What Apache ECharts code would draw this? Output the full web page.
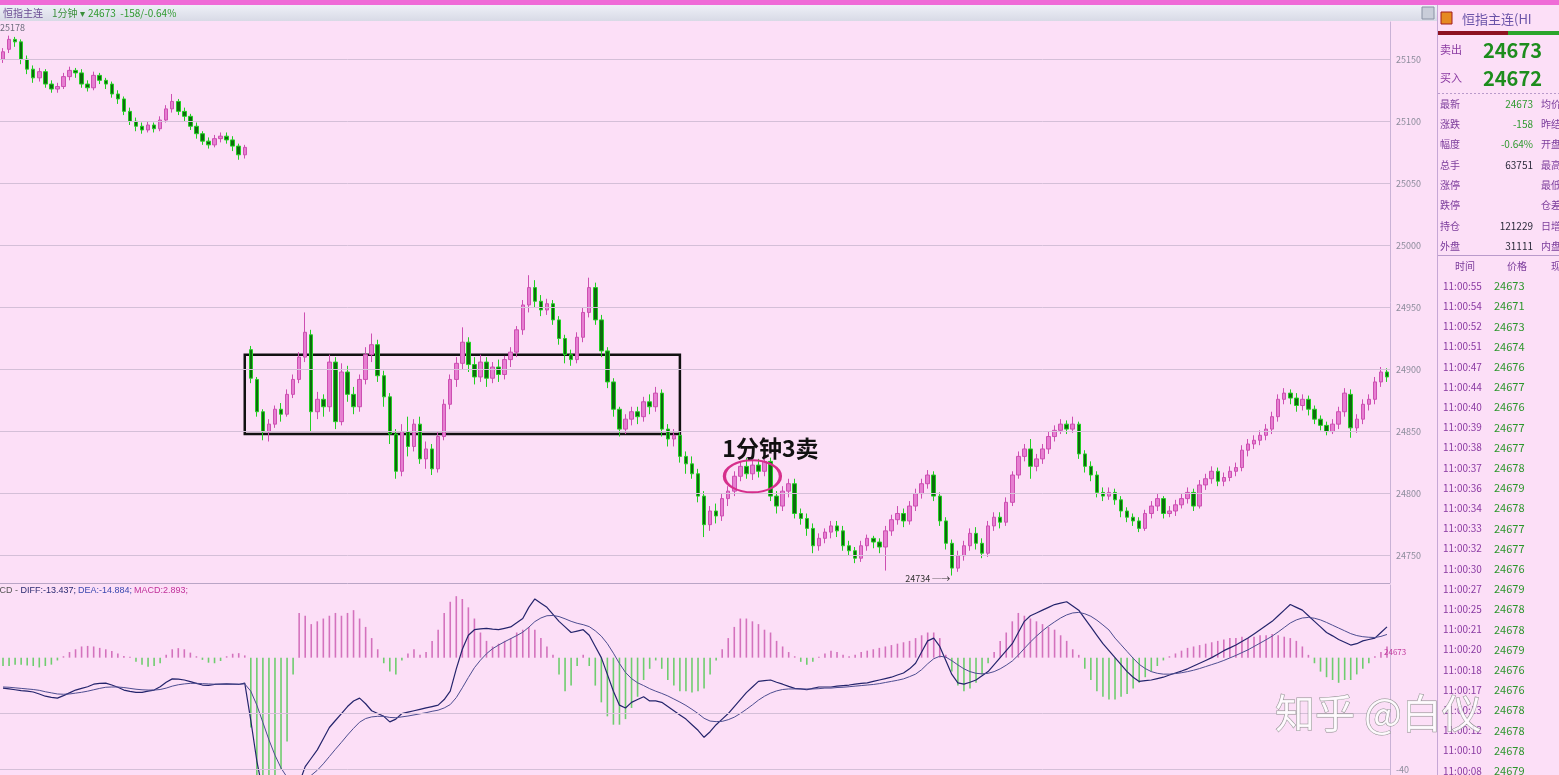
<!DOCTYPE html>
<html><head><meta charset="utf-8">
<script src="https://cdn.jsdelivr.net/npm/echarts@6/dist/echarts.min.js"></script>
<style>html,body{margin:0;padding:0;background:#fcdff7;overflow:hidden;}#c{width:1559px;height:775px;}</style>
</head><body><div id="c"></div>
<script>
// ---------- DATA ----------
const priceTicks = [24750, 24800, 24850, 24900, 24950, 25000, 25050, 25100, 25150];
const macdTicks = [-40];
const macdGrid = [-20, -40];
// [open, close, low, high]
const ohlc = [
[25150,25156,25147,25159],[25158,25166,25155,25169],[25166,25164,25160,25168],[25164,25150,25146,25166],
[25150,25142,25138,25153],[25142,25135,25131,25145],[25135,25140,25132,25143],[25140,25130,25127,25142],
[25130,25126,25123,25133],[25126,25128,25123,25131],[25128,25136,25126,25139],[25136,25141,25133,25144],
[25141,25139,25135,25143],[25139,25130,25127,25142],[25130,25127,25124,25133],[25127,25137,25125,25140],
[25137,25133,25130,25139],[25133,25130,25126,25135],[25130,25122,25119,25132],[25122,25118,25114,25125],
[25118,25108,25105,25120],[25108,25100,25097,25111],[25100,25096,25092,25103],[25096,25093,25090,25099],
[25093,25097,25091,25100],[25097,25094,25091,25099],[25094,25101,25092,25104],[25101,25110,25099,25113],
[25110,25116,25107,25122],[25116,25108,25105,25118],[25108,25104,25100,25111],[25104,25096,25093,25106],
[25096,25090,25086,25099],[25090,25084,25081,25092],[25084,25081,25078,25087],[25081,25086,25079,25089],
[25086,25088,25083,25091],[25088,25085,25082,25091],[25085,25080,25076,25088],[25080,25073,25069,25082],
[25073,25079,25070,25081],
[24916,24893,24889,24919],[24892,24866,24862,24894],[24866,24850,24843,24868],[24850,24856,24842,24860],
[24856,24868,24853,24871],[24868,24864,24858,24873],[24864,24880,24862,24884],[24880,24892,24877,24896],
[24892,24910,24889,24914],[24910,24930,24906,24946],[24928,24866,24850,24932],[24866,24876,24860,24882],
[24876,24870,24862,24880],[24870,24906,24866,24912],[24906,24858,24852,24910],[24858,24898,24855,24905],
[24898,24880,24874,24903],[24880,24870,24864,24886],[24870,24892,24866,24896],[24892,24912,24888,24918],
[24912,24920,24906,24929],[24920,24895,24890,24924],[24895,24878,24870,24899],[24878,24848,24840,24881],
[24848,24818,24812,24852],[24818,24850,24814,24856],[24850,24838,24830,24862],[24838,24856,24834,24860],
[24856,24828,24824,24862],[24828,24836,24820,24842],[24836,24820,24815,24840],[24820,24846,24817,24850],
[24846,24872,24843,24876],[24872,24892,24868,24896],[24892,24905,24886,24910],[24905,24922,24900,24934],
[24922,24904,24898,24926],[24904,24894,24888,24910],[24894,24906,24890,24912],[24906,24893,24886,24910],
[24893,24902,24889,24906],[24902,24896,24890,24908],[24896,24908,24892,24911],[24908,24914,24902,24918],
[24914,24932,24910,24935],[24932,24952,24928,24956],[24952,24966,24946,24976],[24966,24955,24950,24972],
[24955,24948,24943,24960],[24948,24953,24944,24957],[24953,24940,24936,24956],[24940,24925,24920,24943],
[24925,24912,24905,24928],[24912,24908,24903,24916],[24908,24926,24905,24930],[24926,24946,24922,24950],
[24946,24966,24942,24974],[24966,24940,24936,24970],[24940,24915,24910,24944],[24915,24890,24885,24918],
[24890,24868,24862,24893],[24868,24852,24846,24870],[24852,24860,24848,24864],[24860,24866,24855,24870],
[24866,24862,24856,24870],[24862,24874,24858,24878],[24874,24870,24864,24880],[24870,24881,24866,24886],
[24881,24852,24846,24884],[24852,24844,24838,24856],[24844,24847,24838,24852],[24847,24830,24825,24850],
[24830,24824,24816,24834],[24824,24816,24812,24830],[24816,24798,24793,24820],[24798,24775,24765,24802],
[24775,24786,24770,24790],[24786,24782,24776,24792],[24782,24796,24778,24800],[24796,24802,24790,24806],
[24802,24814,24798,24818],[24814,24822,24810,24826],[24822,24816,24812,24829],[24816,24823,24811,24827],
[24823,24818,24813,24828],[24818,24826,24814,24829],[24826,24798,24794,24829],[24798,24790,24784,24802],
[24790,24802,24786,24806],[24802,24808,24797,24812],[24808,24784,24780,24812],[24784,24780,24775,24788],
[24780,24772,24766,24784],[24772,24758,24752,24776],[24758,24764,24754,24768],[24764,24769,24760,24772],
[24769,24774,24764,24778],[24774,24770,24765,24778],[24770,24758,24754,24774],[24758,24754,24750,24762],
[24754,24748,24744,24757],[24748,24758,24745,24762],[24758,24764,24754,24767],[24764,24761,24756,24766],
[24761,24757,24752,24764],[24757,24770,24738,24774],[24770,24779,24766,24783],[24779,24784,24775,24790],
[24784,24778,24773,24788],[24778,24790,24775,24794],[24790,24800,24786,24804],[24800,24808,24796,24812],
[24808,24815,24804,24819],[24815,24798,24794,24818],[24798,24778,24774,24801],[24778,24760,24755,24781],
[24760,24740,24734,24763],[24740,24750,24737,24754],[24750,24758,24746,24762],[24758,24768,24754,24772],
[24768,24760,24755,24773],[24760,24752,24748,24764],[24752,24774,24749,24778],[24774,24781,24770,24785],
[24781,24777,24772,24785],[24777,24793,24774,24797],[24793,24815,24790,24818],[24815,24830,24812,24834],
[24830,24836,24826,24840],[24836,24822,24812,24844],[24822,24828,24818,24832],[24828,24836,24824,24840],
[24836,24846,24832,24850],[24846,24851,24842,24855],[24851,24856,24848,24860],[24856,24852,24848,24859],
[24852,24856,24849,24862],[24856,24832,24828,24858],[24832,24822,24817,24835],[24822,24815,24810,24826],
[24815,24801,24797,24818],[24801,24798,24794,24805],[24798,24801,24795,24805],[24801,24795,24791,24804],
[24795,24786,24781,24798],[24786,24781,24777,24789],[24781,24778,24774,24784],[24778,24772,24769,24781],
[24772,24784,24770,24787],[24784,24790,24780,24794],[24790,24796,24786,24800],[24796,24784,24780,24798],
[24784,24786,24781,24790],[24786,24791,24782,24795],[24791,24796,24788,24800],[24796,24801,24792,24805],
[24801,24790,24786,24804],[24790,24807,24788,24811],[24807,24812,24803,24816],[24812,24818,24808,24822],
[24818,24810,24806,24821],[24810,24813,24806,24817],[24813,24818,24810,24822],[24818,24821,24814,24825],
[24821,24835,24818,24839],[24835,24840,24830,24844],[24840,24843,24836,24847],[24843,24847,24839,24851],
[24847,24852,24843,24856],[24852,24862,24848,24866],[24862,24876,24858,24880],[24876,24881,24872,24885],
[24881,24877,24872,24884],[24877,24871,24866,24881],[24871,24876,24867,24880],[24876,24868,24863,24879],
[24868,24860,24856,24871],[24860,24855,24851,24863],[24855,24850,24847,24858],[24850,24856,24848,24860],
[24856,24866,24852,24870],[24866,24881,24862,24885],[24880,24853,24845,24884],[24853,24860,24849,24864],
[24860,24872,24856,24876],[24872,24876,24867,24880],[24876,24890,24872,24894],[24890,24898,24886,24902],
[24898,24894,24890,24901]
];
const diff = [
-10.9,-11.2,-11.5,-11.8,-12.0,-12.3,-13.0,-13.8,-14.2,-14.5,-13.6,-12.6,-11.6,-11.0,-10.4,-9.5,-9.2,-9.1,-9.8,-10.6,
-11.6,-12.1,-12.4,-12.4,-12.0,-11.6,-10.4,-8.8,-7.6,-7.7,-8.0,-8.6,-9.2,-9.8,-9.9,-9.6,-9.5,-9.4,-9.5,-9.6,
-9.1,-22.5,-37,-48,-54,-57,-58,-56,-52,-45,-39,-36,-33,-29,-25,-22.5,-20,-17.5,-15.5,-14.5,
-16.5,-19,-20,-21,-23,-22,-20,-19.5,-19,-18.5,-18,-17.5,-17,-15,-12,-4,3,8,10,10.3,
10.5,10.2,10,10.5,11,12.5,14,18,21,19.5,18,15.5,13,11,9,9.5,10,8,4,0,
-6,-12,-17,-18,-16,-15,-14,-15.5,-15.5,-16,-17.5,-19,-20.5,-22,-24,-26,-28.5,-26.5,-24,-22,
-20,-17.5,-15,-12.5,-10.5,-8.5,-8.2,-8,-8.8,-9.5,-10.3,-11,-11.2,-11.5,-11,-10.5,-10.5,-10.5,-10.2,-10,
-9.8,-9.5,-9.2,-9,-8.5,-8,-7.5,-7,-6.2,-5.5,-4,-2,2,6,7,4,-1,-6,-9,-9.5,
-8.8,-8,-6.5,-5,-2.5,0,2.5,5,9,13,15,16,17,18,19,19.5,20,18.5,17,14,
11,8,5,2.5,0,-2.5,-5,-7,-8.5,-8.2,-8,-7.5,-7,-6.2,-5.5,-4.8,-4,-3,-2,-1,
0,1.2,2.5,3.5,4.5,5.8,7,8.5,10,11.5,13,15,17,19,18,17,15,13,11,9,
7.8,6.5,5.5,4.5,5,6,6.5,7,9,11
];
const dea = [
-10.5,-10.6,-10.8,-11.0,-11.2,-11.4,-11.7,-12.2,-12.6,-13.0,-13.1,-13.0,-12.7,-12.4,-12.0,-11.5,-11.0,-10.6,-10.5,-10.5,
-10.7,-11.0,-11.3,-11.5,-11.6,-11.6,-11.4,-10.9,-10.2,-9.7,-9.4,-9.2,-9.2,-9.3,-9.4,-9.5,-9.5,-9.5,-9.5,-9.5,
-9.4,-12.0,-17.0,-23.2,-29.4,-34.9,-39.5,-42.8,-44.7,-44.7,-43.6,-42.1,-40.3,-38.0,-35.4,-32.8,-30.3,-27.7,-25.3,-23.1,
-21.8,-21.2,-21.0,-21.0,-21.4,-21.5,-21.2,-20.9,-20.5,-20.1,-19.7,-19.2,-18.8,-18.0,-16.8,-14.3,-10.8,-7.1,-3.6,-0.9,
1.4,3.2,4.5,5.7,6.8,7.9,9.1,10.9,12.9,14.2,15.0,15.1,14.7,13.9,13.0,12.3,11.8,11.1,9.6,7.7,
5.0,1.6,-2.1,-5.3,-7.5,-9.0,-10.0,-11.1,-12.0,-12.8,-13.7,-14.8,-15.9,-17.1,-18.5,-20.0,-21.7,-22.7,-22.9,-22.8,
-22.2,-21.3,-20.0,-18.5,-16.9,-15.2,-13.8,-12.7,-11.9,-11.4,-11.2,-11.2,-11.2,-11.2,-11.2,-11.1,-10.9,-10.9,-10.7,-10.6,
-10.4,-10.2,-10.0,-9.8,-9.6,-9.3,-8.9,-8.5,-8.1,-7.6,-6.8,-5.9,-4.3,-2.2,-0.4,0.5,0.2,-1.1,-2.6,-4.0,
-5.0,-5.6,-5.8,-5.6,-5.0,-4.0,-2.7,-1.2,0.9,3.3,5.6,7.7,9.6,11.3,12.8,14.2,15.3,16.0,16.2,15.7,
14.8,13.4,11.7,9.9,7.0,4.6,2.2,-0.2,-2.4,-3.9,-5.0,-5.6,-5.9,-5.9,-5.7,-5.4,-5.0,-4.5,-3.9,-3.2,
-2.5,-1.8,-1.0,-0.1,0.8,1.8,2.8,4.0,5.2,6.4,7.7,9.2,10.8,12.4,13.5,14.2,14.4,14.1,13.5,12.6,
11.6,10.6,9.6,8.6,7.9,7.5,7.3,7.2,7.6,8.3
];
const macd = [
-3,-3,-2.5,-2.5,-2.8,-3,-3.5,-3,-2.5,-1,0.5,2,3,4,4.2,4,3.5,3,2.4,1.5,
0.6,0.3,-1.5,-2.5,-3.3,-3,-2,1,3,3.4,3,1.8,0.5,-0.8,-1.8,-2,-1.2,0.5,1.4,1.6,
0.8,-25,-44,-50,-50,-48,-40,-30,-6,16,15,12,13,14,15,16,15,16,17,14,
11,7,3,-2,-5,-6,-1,1.5,3,1,2,6,10,16,20,22,21,18,14,9,
6,4,5,6,7,9,10,11,10,7,4,1,-6,-12,-10,-3,1,-3,-10,-16,
-21,-24,-24,-22,-18,-14,-8,-4,-1,-4,-8,-10,-12,-12,-12.5,-12,-11,-6,-1,3,
7,11,14,14,13,12,10,9,6,4,2,0.5,-1.5,-2.5,-1.5,0.3,1.5,2.5,2,1,
0.5,1,2,2.5,3,3.5,4,4.5,5,5.5,6,7,8,9,9,7,1,-5,-10,-12,
-11,-9,-6,-2,2,6,9,13,16,15,14,13,12,11,10,8,6,3,1,-4,
-8,-12,-14,-15,-15,-14,-13,-11,-9,-7,-5,-3,-1,0.5,1.5,2.5,3.5,4,4.5,5,
5.5,6,6.5,7,7,7.5,7,7.5,8,8,8.5,8,7.5,7,6,4,1,-2,-5,-7,
-8,-9,-8,-8,-6,-4,-2,0.5,2,4
];
const categories = ohlc.map((_, i) => String(i + 1));
const quoteLabels = ['最新', '涨跌', '幅度', '总手', '涨停', '跌停', '持仓', '外盘'];
const quoteValues = ['24673', '-158', '-0.64%', '63751', '', '', '121229', '31111'];
const quoteLabels2 = ['均价', '昨结', '开盘', '最高', '最低', '仓差', '日增', '内盘'];
const tickTimes = ['11:00:55','11:00:54','11:00:52','11:00:51','11:00:47','11:00:44','11:00:40','11:00:39','11:00:38',
  '11:00:37','11:00:36','11:00:34','11:00:33','11:00:32','11:00:30','11:00:27','11:00:25','11:00:21','11:00:20',
  '11:00:18','11:00:17','11:00:13','11:00:12','11:00:10','11:00:08'];
const tickPrices = ['24673','24671','24673','24674','24676','24677','24676','24677','24677','24678','24679','24678',
  '24677','24677','24676','24679','24678','24678','24679','24676','24676','24678','24678','24678','24679'];

// ---------- CHART ----------
const FONT = "'Noto Sans CJK SC','Noto Sans',sans-serif";
const chart = echarts.init(document.getElementById('c'), null, {width: 1559, height: 775});
const G = [];
function txt(x, y, text, st, z) {
  G.push({type: 'text', x: x, y: y, z: z || 10, silent: true,
    style: Object.assign({text: text, fontFamily: FONT, fontSize: 10, fill: '#333', verticalAlign: 'middle'}, st)});
}
function rect(x, y, w, h, st, z) { G.push({type: 'rect', z: z || 5, silent: true, shape: {x: x, y: y, width: w, height: h}, style: st}); }
function line(x1, y1, x2, y2, st, z) { G.push({type: 'line', z: z || 5, silent: true, shape: {x1: x1, y1: y1, x2: x2, y2: y2}, style: st}); }

// top strip + toolbar
rect(0, 0, 1559, 5, {fill: '#ef6bd7'});
rect(0, 5, 1437, 16, {fill: new echarts.graphic.LinearGradient(0, 0, 0, 1, [{offset: 0, color: '#eef0f7'}, {offset: 1, color: '#d8dae6'}])});
txt(3, 13, '恒指主连', {fill: '#6a4c92', fontSize: 10});
txt(52, 13, '1分钟 ▾', {fill: '#3b8f3b', fontSize: 10});
txt(88, 13, '24673  -158/-0.64%', {fill: '#2f9a2f', fontSize: 10});
rect(1422, 7, 12, 12, {fill: '#c9cdd9', stroke: '#8a92a4', lineWidth: 1});
txt(0, 28, '25178', {fill: '#6c6c7c', fontSize: 9});
// panel separators
line(0, 583.5, 1390, 583.5, {stroke: '#b9a5c6', lineWidth: 1});
line(1437.5, 5, 1437.5, 775, {stroke: '#c6a7d6', lineWidth: 1});
// MACD header
G.push({type: 'text', x: -14, y: 591, z: 10, silent: true, style: {
  text: '{a|MACD - }{b|DIFF:-13.437;} {c|DEA:-14.884;} {d|MACD:2.893;}', fontFamily: FONT, fontSize: 9, verticalAlign: 'middle',
  rich: {a: {fill: '#555', fontSize: 9}, b: {fill: '#2a2a70', fontSize: 9}, c: {fill: '#3a48b0', fontSize: 9}, d: {fill: '#c0309a', fontSize: 9}}}});
txt(1384, 652, '24673', {fill: '#c0389c', fontSize: 8});

// right quote panel
rect(1441, 12, 11, 12, {fill: '#e58a22', stroke: '#a21d1d', lineWidth: 1});
txt(1462, 19, '恒指主连(HI', {fill: '#6a53a8', fontSize: 13});
rect(1438, 31, 70, 4, {fill: '#8d1221'});
rect(1508, 31, 51, 4, {fill: '#2ba52b'});
txt(1440, 50, '卖出', {fill: '#8a3aa2', fontSize: 11});
txt(1483, 50, '24673', {fill: '#1d8d1d', fontSize: 20, fontWeight: 'bold'});
txt(1440, 78, '买入', {fill: '#8a3aa2', fontSize: 11});
txt(1483, 78, '24672', {fill: '#1d8d1d', fontSize: 20, fontWeight: 'bold'});
line(1438, 93.5, 1559, 93.5, {stroke: '#b99acb', lineWidth: 1, lineDash: [2, 2]});
quoteLabels.forEach(function (lab, k) {
  const y = 104 + k * 20.3;
  txt(1440, y, lab, {fill: '#7b3c9b', fontSize: 10});
  txt(1533, y, quoteValues[k], {fill: k < 3 ? '#2f9a2f' : '#2a2a3a', fontSize: 10, align: 'right'});
  txt(1541, y, quoteLabels2[k], {fill: '#7b3c9b', fontSize: 10});
});
line(1438, 255.5, 1559, 255.5, {stroke: '#b99acb', lineWidth: 1});
txt(1455, 266, '时间', {fill: '#7b3c9b', fontSize: 10});
txt(1507, 266, '价格', {fill: '#7b3c9b', fontSize: 10});
txt(1551, 266, '现', {fill: '#7b3c9b', fontSize: 10});
tickTimes.forEach(function (t, k) {
  const y = 286 + k * 20.2;
  txt(1443, y, t, {fill: '#8a3aa2', fontSize: 10});
  txt(1494, y, tickPrices[k], {fill: '#2c962c', fontSize: 11});
});
// watermark
txt(1275, 713, '知乎 @白仪', {fill: 'rgba(255,255,255,0.85)', stroke: '#8e8e8e', lineWidth: 1, fontSize: 40}, 100);

const hiddenX = {show: false};
const plainNum = function (v) { return String(v); };
const option = {
  animation: false,
  backgroundColor: '#fcdff7',
  textStyle: {fontFamily: FONT},
  grid: [
    {left: 0, right: 169, top: 22, height: 561},
    {left: 0, right: 169, top: 585, height: 190}
  ],
  xAxis: [
    {type: 'category', gridIndex: 0, data: categories, boundaryGap: true, axisLine: hiddenX, axisTick: hiddenX, axisLabel: hiddenX, splitLine: hiddenX},
    {type: 'category', gridIndex: 1, data: categories, boundaryGap: true, axisLine: hiddenX, axisTick: hiddenX, axisLabel: hiddenX, splitLine: hiddenX}
  ],
  yAxis: [
    {type: 'value', gridIndex: 0, position: 'right', min: 24728, max: 25180,
     splitLine: {show: false}, axisTick: {show: false},
     axisLine: {show: true, lineStyle: {color: '#c9b2d6'}},
     axisLabel: {customValues: priceTicks, formatter: plainNum, color: '#8c8c9c', fontSize: 9, margin: 6}},
    {type: 'value', gridIndex: 1, position: 'right', min: -42, max: 26,
     splitLine: {show: false}, axisTick: {show: false},
     axisLine: {show: true, lineStyle: {color: '#c9b2d6'}},
     axisLabel: {customValues: macdTicks, formatter: plainNum, color: '#8c8c9c', fontSize: 9, margin: 6}}
  ],
  series: [
    {
      type: 'candlestick', xAxisIndex: 0, yAxisIndex: 0, data: ohlc, barWidth: 4,
      itemStyle: {color: '#e67ed1', color0: '#0e6a0e', borderColor: '#cd4fb2', borderColor0: '#22d022', borderWidth: 1},
      markLine: {silent: true, symbol: ['none', 'none'], label: {show: false},
        lineStyle: {color: '#d4bfd8', width: 1, type: 'solid'}, data: priceTicks.map(function (v) { return {yAxis: v}; })},
      markArea: {silent: true, itemStyle: {color: 'rgba(0,0,0,0)', borderColor: '#111', borderWidth: 2.5},
        data: [[{xAxis: categories[40], yAxis: 24912}, {xAxis: categories[112], yAxis: 24848}]]},
      markPoint: {silent: true, data: [
        {coord: [categories[124], 24814], symbol: 'circle', symbolSize: [56, 32],
         itemStyle: {color: 'rgba(0,0,0,0)', borderColor: '#d62f8c', borderWidth: 2.5}, label: {show: false}},
        {coord: [categories[124], 24814], symbol: 'circle', symbolSize: 1, itemStyle: {color: 'rgba(0,0,0,0)'},
         label: {show: true, formatter: '1分钟3卖', position: 'inside', offset: [18, -28], fontSize: 23, fontWeight: 'bold', color: '#111'}},
        {coord: [categories[157], 24734], symbol: 'circle', symbolSize: 1, itemStyle: {color: 'rgba(0,0,0,0)'},
         label: {show: true, formatter: '24734 ─→', position: 'left', distance: 1, offset: [0, 3], fontSize: 9, color: '#333'}}
      ]}
    },
    {
      type: 'bar', xAxisIndex: 1, yAxisIndex: 1, data: macd, barWidth: 1.6,
      itemStyle: {color: function (p) { return p.value >= 0 ? '#d472bd' : '#6fcd6f'; }},
      markLine: {silent: true, symbol: ['none', 'none'], label: {show: false},
        lineStyle: {color: '#d4bfd8', width: 1, type: 'solid'}, data: macdGrid.map(function (v) { return {yAxis: v}; })}
    },
    {type: 'line', name: 'DIFF', xAxisIndex: 1, yAxisIndex: 1, data: diff, symbol: 'none', lineStyle: {color: '#24246c', width: 1.2}},
    {type: 'line', name: 'DEA', xAxisIndex: 1, yAxisIndex: 1, data: dea, symbol: 'none', lineStyle: {color: '#4d4d90', width: 1}}
  ],
  graphic: G
};
chart.setOption(option);
</script>
</body></html>
